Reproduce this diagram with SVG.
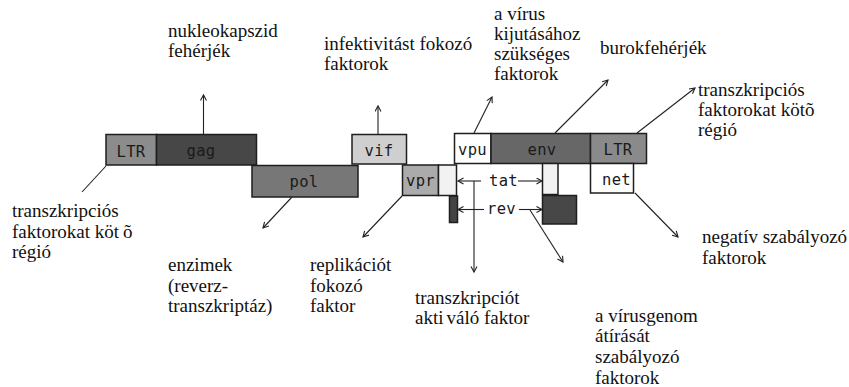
<svg xmlns="http://www.w3.org/2000/svg" width="849" height="387" viewBox="0 0 849 387">
<defs>
<marker id="ah" markerWidth="8" markerHeight="8" refX="6" refY="3.5" orient="auto" markerUnits="userSpaceOnUse">
<path d="M0.5,0.5 L6,3.5 L0.5,6.5" fill="none" stroke="#222" stroke-width="1.1"/>
</marker>
<style>
.box{stroke:#1e1e1e;stroke-width:1.5}
.lbl{font-family:"DejaVu Sans Mono","Liberation Mono",monospace;font-size:15.5px;fill:#1a1a1a;text-anchor:middle;letter-spacing:0.3px}
.txt{font-family:"Liberation Serif","Times New Roman",serif;font-size:19px;fill:#111}
.con line{stroke:#222;stroke-width:1.1;fill:none}
.arr{marker-end:url(#ah)}
</style>
</defs>
<rect width="849" height="387" fill="#fff"/>

<g id="ltr-left"><rect class="box" x="106" y="134.5" width="50.5" height="30.5" fill="#8c8c8c"/><text class="lbl" x="131" y="157">LTR</text></g>
<g id="gag"><rect class="box" x="156.5" y="134.5" width="100" height="30.5" fill="#474747"/><text class="lbl" x="201" y="156">gag</text></g>
<g id="pol"><rect class="box" x="252" y="165.5" width="106" height="31.5" fill="#777"/><text class="lbl" x="304" y="187">pol</text></g>
<g id="vif"><rect class="box" x="352" y="134.5" width="54.5" height="29.5" fill="#cfcfcf"/><text class="lbl" x="379" y="156">vif</text></g>
<g id="vpr"><rect class="box" x="402.5" y="165" width="36" height="30.5" fill="#ababab"/><rect class="box" x="438.5" y="165" width="18" height="30.5" fill="#f2f2f2"/><text class="lbl" x="420.5" y="186">vpr</text></g>
<g id="vpr-bar"><rect class="box" x="449.5" y="196" width="8" height="26.5" fill="#444"/></g>
<g id="vpu"><rect class="box" x="454.5" y="133.5" width="36.5" height="30" fill="#fff"/><text class="lbl" x="472.5" y="155">vpu</text></g>
<g id="env"><rect class="box" x="491" y="133.5" width="99.5" height="30" fill="#676767"/><text class="lbl" x="542" y="155">env</text></g>
<g id="ltr-right"><rect class="box" x="590.5" y="133.5" width="56" height="30" fill="#8a8a8a"/><text class="lbl" x="618" y="155">LTR</text></g>
<g id="net"><rect class="box" x="590.5" y="163.5" width="43" height="29.5" fill="#fff"/><text class="lbl" x="616.5" y="185">net</text></g>
<g id="tat"><rect class="box" x="542.5" y="163.5" width="15.5" height="31" fill="#f2f2f2"/><text class="lbl" x="503.5" y="186">tat</text></g>
<g id="rev"><rect class="box" x="542.5" y="195.5" width="34" height="28.5" fill="#474747"/><text class="lbl" x="501.5" y="214">rev</text></g>

<g id="connectors" class="con">
<line class="arr" x1="203.5" y1="134" x2="203.5" y2="95"/>
<line class="arr" x1="378" y1="134" x2="378" y2="106"/>
<line class="arr" x1="474" y1="133" x2="492" y2="97"/>
<line class="arr" x1="555" y1="133" x2="608" y2="80"/>
<line class="arr" x1="637" y1="133" x2="695" y2="88"/>
<line class="arr" x1="635" y1="193" x2="678" y2="237"/>
<line x1="106" y1="166" x2="82" y2="192"/>
<line class="arr" x1="292" y1="197" x2="263" y2="228"/>
<line class="arr" x1="402" y1="196" x2="363" y2="237"/>
<line class="arr" x1="481" y1="181" x2="458" y2="181"/>
<line class="arr" x1="518" y1="181" x2="542" y2="181"/>
<line class="arr" x1="484" y1="209.5" x2="458" y2="209.5"/>
<line class="arr" x1="519" y1="209.5" x2="542" y2="209.5"/>
<line class="arr" x1="474" y1="181" x2="474" y2="272"/>
<line class="arr" x1="530" y1="210" x2="563" y2="262"/>
</g>

<g id="labels">
<text class="txt" x="168" y="37">nukleokapszid</text>
<text class="txt" x="168" y="57">fehérjék</text>
<text class="txt" x="324" y="50">infektivitást fokozó</text>
<text class="txt" x="324" y="70">faktorok</text>
<text class="txt" x="494" y="20">a vírus</text>
<text class="txt" x="494" y="40">kijutásához</text>
<text class="txt" x="494" y="60">szükséges</text>
<text class="txt" x="494" y="80">faktorok</text>
<text class="txt" x="600" y="54">burokfehérjék</text>
<text class="txt" x="698" y="96">transzkripciós</text>
<text class="txt" x="698" y="116">faktorokat kötõ</text>
<text class="txt" x="698" y="136">régió</text>
<text class="txt" x="12" y="217">transzkripciós</text>
<text class="txt" x="12" y="238">faktorokat köt<tspan dx="4">õ</tspan></text>
<text class="txt" x="12" y="258">régió</text>
<text class="txt" x="168" y="271">enzimek</text>
<text class="txt" x="168" y="292">(reverz-</text>
<text class="txt" x="168" y="312">transzkriptáz)</text>
<text class="txt" x="310" y="271">replikációt</text>
<text class="txt" x="310" y="292">fokozó</text>
<text class="txt" x="310" y="312">faktor</text>
<text class="txt" x="702" y="243">negatív szabályozó</text>
<text class="txt" x="702" y="264">faktorok</text>
<text class="txt" x="415" y="304">transzkripciót</text>
<text class="txt" x="415" y="324">akti<tspan dx="3">váló</tspan> faktor</text>
<text class="txt" x="595" y="322">a vírusgenom</text>
<text class="txt" x="595" y="342">átírását</text>
<text class="txt" x="595" y="363">szabályozó</text>
<text class="txt" x="595" y="384">faktorok</text>
</g>
</svg>
